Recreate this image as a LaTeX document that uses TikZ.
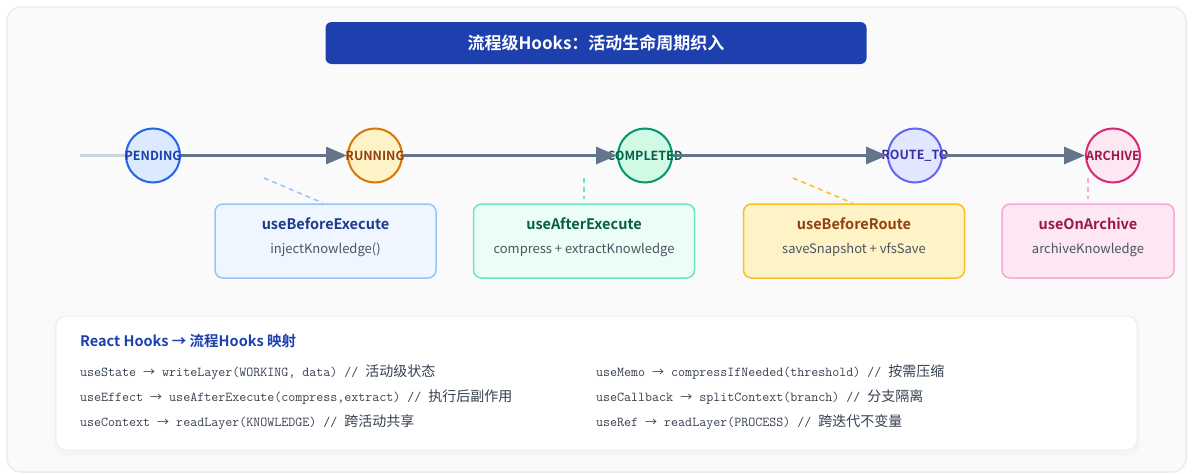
\documentclass[tikz,border=0pt]{standalone}
\usepackage{fontspec}
\setmainfont{Noto Sans CJK SC}
\newfontfamily\cjk{Noto Sans CJK SC}
\newfontfamily\cjkb{Noto Sans CJK SC Bold}
\usetikzlibrary{arrows.meta,shapes.geometric}
\definecolor{bgpage}{HTML}{FFFFFF}
\definecolor{cardfill}{HTML}{FAFAFB}
\definecolor{cardline}{HTML}{ECECEE}
\definecolor{titleblue}{HTML}{1E40AF}
\definecolor{lineslate}{HTML}{64748B}
\definecolor{lightslate}{HTML}{CBD5E1}
\definecolor{pfill}{HTML}{DBEAFE}\definecolor{pline}{HTML}{2563EB}\definecolor{ptext}{HTML}{1E40AF}
\definecolor{rfill}{HTML}{FEF3C7}\definecolor{rline}{HTML}{D97706}\definecolor{rtext}{HTML}{92400E}
\definecolor{cfill}{HTML}{D1FAE5}\definecolor{cline}{HTML}{059669}\definecolor{ctext}{HTML}{065F46}
\definecolor{tfill}{HTML}{E0E7FF}\definecolor{tline}{HTML}{6366F1}\definecolor{ttext}{HTML}{3730A3}
\definecolor{afill}{HTML}{FCE7F3}\definecolor{aline}{HTML}{DB2777}\definecolor{atext}{HTML}{9D174D}
\definecolor{h1fill}{HTML}{EFF6FF}\definecolor{h1line}{HTML}{93C5FD}\definecolor{h1text}{HTML}{1E3A8A}
\definecolor{h2fill}{HTML}{ECFDF5}\definecolor{h2line}{HTML}{6EE7B7}\definecolor{h2text}{HTML}{065F46}
\definecolor{h3fill}{HTML}{FEF3C7}\definecolor{h3line}{HTML}{FBBF24}\definecolor{h3text}{HTML}{92400E}
\definecolor{h4fill}{HTML}{FCE7F3}\definecolor{h4line}{HTML}{F9A8D4}\definecolor{h4text}{HTML}{9D174D}
\definecolor{subgray}{HTML}{4B5563}
\definecolor{codegray}{HTML}{374151}
\tikzset{
  stcirc/.style={circle, minimum size=54pt, inner sep=0pt, line width=2pt},
  stlabel/.style={font=\cjkb\fontsize{12.5}{13}\selectfont},
  flowarrow/.style={draw=lineslate, line width=3pt, -{Triangle[length=21pt,width=17pt]}},
  hookbox/.style={rounded corners=8pt, line width=1.5pt, minimum width=221pt, minimum height=74pt, inner sep=0pt},
  hooktitle/.style={font=\cjkb\fontsize{14.5}{15}\selectfont},
  hooksub/.style={font=\cjk\fontsize{13}{14}\selectfont, text=subgray},
  hookdash/.style={line width=1.5pt, dash pattern=on 5pt off 4pt},
  codeline/.style={anchor=west, text=codegray, inner sep=0pt, font=\ttfamily\fontsize{13.6}{14}\selectfont},
}
\newcommand{\cz}[1]{{\cjk\fontsize{14}{14}\selectfont #1}}
\newcommand{\ar}{{\cjk\fontsize{12}{14}\selectfont →}}
\begin{document}
\begin{tikzpicture}[x=1pt,y=-1pt]
\useasboundingbox (0,0) rectangle (1200,474);
\fill[bgpage] (0,0) rectangle (1200,474);
% outer card
\draw[cardline, fill=cardfill, line width=1.5pt, rounded corners=14pt] (7,7) rectangle (1186,472);
% title
\node[fill=titleblue, rounded corners=6pt, minimum width=541pt, minimum height=42pt, inner sep=0pt,
      text=white, font=\cjkb\fontsize{17}{18}\selectfont] (title) at (596,43) {流程级Hooks：活动生命周期织入};
% states
\node[stcirc, fill=pfill, draw=pline, label={[stlabel, text=ptext]center:PENDING}] (p) at (153,155.5) {};
\node[stcirc, fill=rfill, draw=rline, label={[stlabel, text=rtext]center:RUNNING}] (r) at (375,155.5) {};
\node[stcirc, fill=cfill, draw=cline, label={[stlabel, text=ctext]center:COMPLETED}] (c) at (645,155.5) {};
\node[stcirc, fill=tfill, draw=tline, label={[stlabel, text=ttext]center:ROUTE\_TO}] (t) at (915,155.5) {};
\node[stcirc, fill=afill, draw=aline, label={[stlabel, text=atext]center:ARCHIVE}] (a) at (1113,155.5) {};
\coordinate (ls) at (80,155.5);
\draw[lightslate, line width=3pt] (ls) -- (p);
\draw[flowarrow] (p) -- (r);
\draw[flowarrow] (r) -- (c);
\draw[flowarrow] (c) -- (t);
\draw[flowarrow] (t) -- (a);
% hook boxes
\node[hookbox, fill=h1fill, draw=h1line] (h1) at (325.5,241) {};
\node[hooktitle, text=h1text] (h1t) at (325.5,224) {useBeforeExecute};
\node[hooksub] (h1s) at (325.5,250) {injectKnowledge()};
\node[hookbox, fill=h2fill, draw=h2line] (h2) at (584,241) {};
\node[hooktitle, text=h2text] (h2t) at (584,224) {useAfterExecute};
\node[hooksub] (h2s) at (584,250) {compress + extractKnowledge};
\node[hookbox, fill=h3fill, draw=h3line] (h3) at (854,241) {};
\node[hooktitle, text=h3text] (h3t) at (854,224) {useBeforeRoute};
\node[hooksub] (h3s) at (854,250) {saveSnapshot + vfsSave};
\node[hookbox, fill=h4fill, draw=h4line, minimum width=172pt] (h4) at (1088,241) {};
\node[hooktitle, text=h4text] (h4t) at (1088,224) {useOnArchive};
\node[hooksub] (h4s) at (1088,250) {archiveKnowledge};
% dashed connectors
\coordinate (d1) at (264,178);
\coordinate (d2) at (584,178);
\coordinate (d3) at (793,178);
\coordinate (d4) at (1088,178);
\draw[hookdash, h1line, shorten >=1pt] (d1) -- ([xshift=-2pt]h1.north);
\draw[hookdash, h2line, shorten >=4pt] (d2) -- (h2.north);
\draw[hookdash, h3line, shorten >=1pt] (d3) -- ([xshift=-1pt]h3.north);
\draw[hookdash, h4line, shorten >=4pt] (d4) -- (h4.north);
% bottom panel
\fill[black!7, rounded corners=11pt] (55,317) rectangle (1139,453);
\fill[black!4, rounded corners=11pt] (54,316) rectangle (1140,455);
\draw[white!92!black, fill=white, line width=0.8pt, rounded corners=10pt] (56,316) rectangle (1137,450);
\node[anchor=west, inner sep=0pt, text=titleblue, font=\cjkb\fontsize{14.5}{15}\selectfont] (pt) at (80,341) {React Hooks → 流程Hooks 映射};
\node[codeline] (l1) at (80,372) {useState \ar{} writeLayer(WORKING, data) // \cz{活动级状态}};
\node[codeline] (l2) at (80,397) {useEffect \ar{} useAfterExecute(compress,extract) // \cz{执行后副作用}};
\node[codeline] (l3) at (80,422) {useContext \ar{} readLayer(KNOWLEDGE) // \cz{跨活动共享}};
\node[codeline] (r1) at (596,372) {useMemo \ar{} compressIfNeeded(threshold) // \cz{按需压缩}};
\node[codeline] (r2) at (596,397) {useCallback \ar{} splitContext(branch) // \cz{分支隔离}};
\node[codeline] (r3) at (596,422) {useRef \ar{} readLayer(PROCESS) // \cz{跨迭代不变量}};
\end{tikzpicture}
\end{document}
